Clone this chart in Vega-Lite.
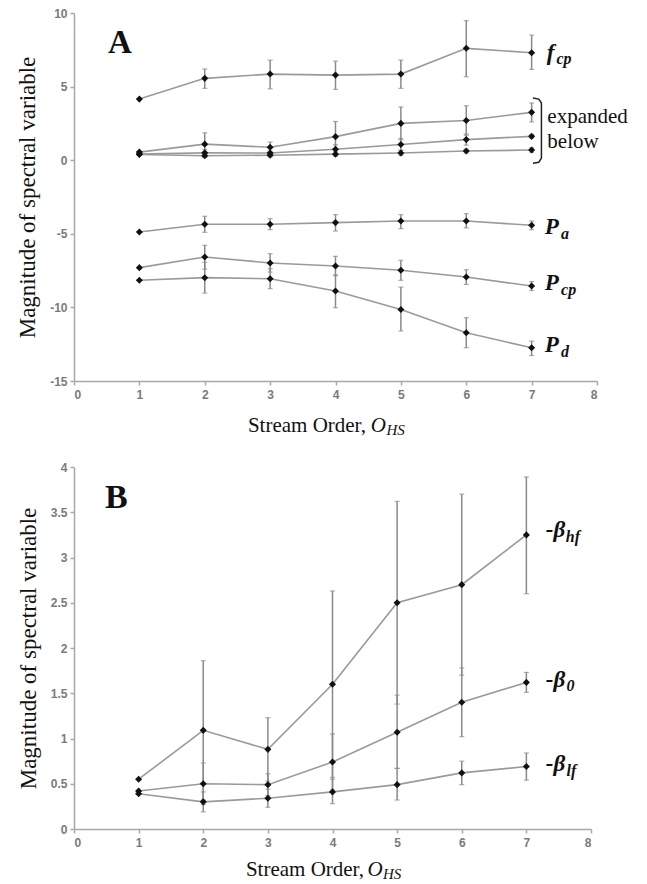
{
  "$schema": "https://vega.github.io/schema/vega-lite/v6.json",
  "background": "white",
  "padding": {"left": 16, "top": 7, "right": 5, "bottom": 5},
  "datasets": {
    "pts": [
      {"s": "fcp", "x": 1, "y": 4.15},
      {"s": "fcp", "x": 2, "y": 5.56, "lo": 4.88, "hi": 6.2},
      {"s": "fcp", "x": 3, "y": 5.85, "lo": 4.85, "hi": 6.8},
      {"s": "fcp", "x": 4, "y": 5.78, "lo": 4.81, "hi": 6.73},
      {"s": "fcp", "x": 5, "y": 5.85, "lo": 4.88, "hi": 6.8},
      {"s": "fcp", "x": 6, "y": 7.6, "lo": 5.67, "hi": 9.48},
      {"s": "fcp", "x": 7, "y": 7.3, "lo": 6.17, "hi": 8.5},
      {"s": "bhf", "x": 1, "y": 0.55},
      {"s": "bhf", "x": 2, "y": 1.09, "lo": 0.32, "hi": 1.86},
      {"s": "bhf", "x": 3, "y": 0.88, "lo": 0.53, "hi": 1.23},
      {"s": "bhf", "x": 4, "y": 1.6, "lo": 0.57, "hi": 2.63},
      {"s": "bhf", "x": 5, "y": 2.5, "lo": 1.38, "hi": 3.62},
      {"s": "bhf", "x": 6, "y": 2.7, "lo": 1.7, "hi": 3.7},
      {"s": "bhf", "x": 7, "y": 3.25, "lo": 2.6, "hi": 3.89},
      {"s": "b0", "x": 1, "y": 0.42},
      {"s": "b0", "x": 2, "y": 0.5, "lo": 0.27, "hi": 0.73},
      {"s": "b0", "x": 3, "y": 0.49, "lo": 0.37, "hi": 0.61},
      {"s": "b0", "x": 4, "y": 0.74, "lo": 0.43, "hi": 1.05},
      {"s": "b0", "x": 5, "y": 1.07, "lo": 0.67, "hi": 1.48},
      {"s": "b0", "x": 6, "y": 1.4, "lo": 1.02, "hi": 1.78},
      {"s": "b0", "x": 7, "y": 1.62, "lo": 1.51, "hi": 1.73},
      {"s": "blf", "x": 1, "y": 0.39},
      {"s": "blf", "x": 2, "y": 0.3, "lo": 0.19, "hi": 0.41},
      {"s": "blf", "x": 3, "y": 0.34, "lo": 0.24, "hi": 0.44},
      {"s": "blf", "x": 4, "y": 0.41, "lo": 0.28, "hi": 0.55},
      {"s": "blf", "x": 5, "y": 0.49, "lo": 0.32, "hi": 0.67},
      {"s": "blf", "x": 6, "y": 0.62, "lo": 0.49, "hi": 0.75},
      {"s": "blf", "x": 7, "y": 0.69, "lo": 0.54, "hi": 0.84},
      {"s": "Pa", "x": 1, "y": -4.88},
      {"s": "Pa", "x": 2, "y": -4.35, "lo": -4.9, "hi": -3.81},
      {"s": "Pa", "x": 3, "y": -4.35, "lo": -4.72, "hi": -3.97},
      {"s": "Pa", "x": 4, "y": -4.24, "lo": -4.81, "hi": -3.7},
      {"s": "Pa", "x": 5, "y": -4.13, "lo": -4.65, "hi": -3.7},
      {"s": "Pa", "x": 6, "y": -4.13, "lo": -4.6, "hi": -3.63},
      {"s": "Pa", "x": 7, "y": -4.42, "lo": -4.72, "hi": -4.13},
      {"s": "Pcp", "x": 1, "y": -7.3},
      {"s": "Pcp", "x": 2, "y": -6.58, "lo": -7.4, "hi": -5.78},
      {"s": "Pcp", "x": 3, "y": -6.98, "lo": -7.6, "hi": -6.35},
      {"s": "Pcp", "x": 4, "y": -7.19, "lo": -7.85, "hi": -6.53},
      {"s": "Pcp", "x": 5, "y": -7.48, "lo": -8.16, "hi": -6.8},
      {"s": "Pcp", "x": 6, "y": -7.94, "lo": -8.44, "hi": -7.44},
      {"s": "Pcp", "x": 7, "y": -8.55, "lo": -8.85, "hi": -8.25},
      {"s": "Pd", "x": 1, "y": -8.16},
      {"s": "Pd", "x": 2, "y": -7.98, "lo": -9.03, "hi": -6.93},
      {"s": "Pd", "x": 3, "y": -8.05, "lo": -8.73, "hi": -7.37},
      {"s": "Pd", "x": 4, "y": -8.89, "lo": -10.02, "hi": -7.79},
      {"s": "Pd", "x": 5, "y": -10.14, "lo": -11.6, "hi": -8.62},
      {"s": "Pd", "x": 6, "y": -11.72, "lo": -12.74, "hi": -10.7},
      {"s": "Pd", "x": 7, "y": -12.74, "lo": -13.27, "hi": -12.29}
    ],
    "lab": [
      {"p": "A", "k": "title", "t": "A", "x": 0.52, "y": 7.28},
      {"p": "A", "k": "main", "t": "f", "x": 7.23, "y": 6.8},
      {"p": "A", "k": "sub", "t": "cp", "x": 7.38, "y": 6.55},
      {"p": "A", "k": "main", "t": "P", "x": 7.2, "y": -4.99},
      {"p": "A", "k": "sub", "t": "a", "x": 7.45, "y": -5.33},
      {"p": "A", "k": "main", "t": "P", "x": 7.2, "y": -8.84},
      {"p": "A", "k": "sub", "t": "cp", "x": 7.45, "y": -9.18},
      {"p": "A", "k": "main", "t": "P", "x": 7.2, "y": -13.04},
      {"p": "A", "k": "sub", "t": "d", "x": 7.45, "y": -13.38},
      {"p": "A", "k": "note", "t": "expanded", "x": 7.24, "y": 2.5},
      {"p": "A", "k": "note", "t": "below", "x": 7.24, "y": 0.8},
      {"p": "A", "k": "xt", "t": "Stream Order,", "x": 2.66, "y": -18.44},
      {"p": "A", "k": "xo", "t": "O", "x": 4.54, "y": -18.44},
      {"p": "A", "k": "xs", "t": "HS", "x": 4.78, "y": -18.66},
      {"p": "B", "k": "title", "t": "B", "x": 0.48, "y": 3.55},
      {"p": "B", "k": "main", "t": "-β", "x": 7.3, "y": 3.23},
      {"p": "B", "k": "sub", "t": "hf", "x": 7.61, "y": 3.17},
      {"p": "B", "k": "main", "t": "-β", "x": 7.3, "y": 1.57},
      {"p": "B", "k": "sub", "t": "0", "x": 7.62, "y": 1.52},
      {"p": "B", "k": "main", "t": "-β", "x": 7.3, "y": 0.64},
      {"p": "B", "k": "sub", "t": "lf", "x": 7.62, "y": 0.59},
      {"p": "B", "k": "xt", "t": "Stream Order,", "x": 2.66, "y": -0.52},
      {"p": "B", "k": "xo", "t": "O", "x": 4.54, "y": -0.52},
      {"p": "B", "k": "xs", "t": "HS", "x": 4.78, "y": -0.55}
    ],
    "bracket": [
      {"i": 1, "x": 7.02, "y": 4.22},
      {"i": 2, "x": 7.11, "y": 4.15},
      {"i": 3, "x": 7.15, "y": 3.88},
      {"i": 4, "x": 7.15, "y": 0.14},
      {"i": 5, "x": 7.11, "y": -0.14},
      {"i": 6, "x": 7.02, "y": -0.2}
    ]
  },
  "vconcat": [
    {
      "width": 523,
      "height": 368,
      "encoding": {
        "x": {"field": "x", "type": "quantitative", "scale": {"domain": [0, 8], "nice": false},
              "axis": {"title": null, "values": [0, 1, 2, 3, 4, 5, 6, 7, 8], "labelExpr": "'' + datum.value", "labelPadding": 4}},
        "y": {"field": "y", "type": "quantitative", "scale": {"domain": [-15, 10], "nice": false},
              "axis": {"title": "Magnitude of spectral variable", "values": [-15, -10, -5, 0, 5, 10], "labelExpr": "'' + datum.value", "titlePadding": 10, "labelPadding": 3}}
      },
      "layer": [
        {"data": {"name": "pts"}, "mark": {"type": "line", "color": "#9a9a9a", "strokeWidth": 1.6}, "encoding": {"detail": {"field": "s"}}},
        {"data": {"name": "pts"}, "transform": [{"filter": "isValid(datum.lo)"}],
         "mark": {"type": "errorbar", "color": "#8a8a8a", "thickness": 1.5, "ticks": {"size": 5, "color": "#8a8a8a", "thickness": 1.2}},
         "encoding": {"y": {"field": "lo", "type": "quantitative"}, "y2": {"field": "hi"}}},
        {"data": {"name": "pts"}, "mark": {"type": "point", "shape": "diamond", "filled": true, "color": "#111", "size": 50, "opacity": 1}},
        {"data": {"name": "bracket"}, "mark": {"type": "line", "color": "#222", "strokeWidth": 1.5}, "encoding": {"order": {"field": "i"}}},
        {"data": {"name": "lab"}, "transform": [{"filter": "datum.p == 'A' && datum.k == 'title'"}],
         "mark": {"type": "text", "align": "left", "baseline": "alphabetic", "font": "Liberation Serif", "fontWeight": "bold", "fontSize": 33, "color": "#111"}, "encoding": {"text": {"field": "t"}}},
        {"data": {"name": "lab"}, "transform": [{"filter": "datum.p == 'A' && datum.k == 'main'"}],
         "mark": {"type": "text", "align": "left", "baseline": "alphabetic", "font": "Liberation Serif", "fontWeight": "bold", "fontStyle": "italic", "fontSize": 23, "color": "#111"}, "encoding": {"text": {"field": "t"}}},
        {"data": {"name": "lab"}, "transform": [{"filter": "datum.p == 'A' && datum.k == 'sub'"}],
         "mark": {"type": "text", "align": "left", "baseline": "alphabetic", "font": "Liberation Serif", "fontWeight": "bold", "fontStyle": "italic", "fontSize": 16, "color": "#111"}, "encoding": {"text": {"field": "t"}}},
        {"data": {"name": "lab"}, "transform": [{"filter": "datum.p == 'A' && datum.k == 'note'"}],
         "mark": {"type": "text", "align": "left", "baseline": "alphabetic", "font": "Liberation Serif", "fontSize": 21, "color": "#111"}, "encoding": {"text": {"field": "t"}}},
        {"data": {"name": "lab"}, "transform": [{"filter": "datum.p == 'A' && datum.k == 'xt'"}],
         "mark": {"type": "text", "align": "left", "baseline": "alphabetic", "font": "Liberation Serif", "fontSize": 21, "color": "#111"}, "encoding": {"text": {"field": "t"}}},
        {"data": {"name": "lab"}, "transform": [{"filter": "datum.p == 'A' && datum.k == 'xo'"}],
         "mark": {"type": "text", "align": "left", "baseline": "alphabetic", "font": "Liberation Serif", "fontStyle": "italic", "fontSize": 21, "color": "#111"}, "encoding": {"text": {"field": "t"}}},
        {"data": {"name": "lab"}, "transform": [{"filter": "datum.p == 'A' && datum.k == 'xs'"}],
         "mark": {"type": "text", "align": "left", "baseline": "alphabetic", "font": "Liberation Serif", "fontStyle": "italic", "fontSize": 15, "color": "#111"}, "encoding": {"text": {"field": "t"}}}
      ]
    },
    {
      "width": 517,
      "height": 362,
      "encoding": {
        "x": {"field": "x", "type": "quantitative", "scale": {"domain": [0, 8], "nice": false},
              "axis": {"title": null, "values": [0, 1, 2, 3, 4, 5, 6, 7, 8], "labelExpr": "'' + datum.value", "labelPadding": 4}},
        "y": {"field": "y", "type": "quantitative", "scale": {"domain": [0, 4], "nice": false},
              "axis": {"title": "Magnitude of spectral variable", "values": [0, 0.5, 1, 1.5, 2, 2.5, 3, 3.5, 4], "labelExpr": "'' + datum.value", "titlePadding": 10, "labelPadding": 3}}
      },
      "layer": [
        {"data": {"name": "pts"}, "transform": [{"filter": {"field": "s", "oneOf": ["bhf", "b0", "blf"]}}],
         "mark": {"type": "line", "color": "#9a9a9a", "strokeWidth": 1.6}, "encoding": {"detail": {"field": "s"}}},
        {"data": {"name": "pts"}, "transform": [{"filter": {"field": "s", "oneOf": ["bhf", "b0", "blf"]}}, {"filter": "isValid(datum.lo)"}],
         "mark": {"type": "errorbar", "color": "#8a8a8a", "thickness": 1.5, "ticks": {"size": 5, "color": "#8a8a8a", "thickness": 1.2}},
         "encoding": {"y": {"field": "lo", "type": "quantitative"}, "y2": {"field": "hi"}}},
        {"data": {"name": "pts"}, "transform": [{"filter": {"field": "s", "oneOf": ["bhf", "b0", "blf"]}}],
         "mark": {"type": "point", "shape": "diamond", "filled": true, "color": "#111", "size": 50, "opacity": 1}},
        {"data": {"name": "lab"}, "transform": [{"filter": "datum.p == 'B' && datum.k == 'title'"}],
         "mark": {"type": "text", "align": "left", "baseline": "alphabetic", "font": "Liberation Serif", "fontWeight": "bold", "fontSize": 34, "color": "#111"}, "encoding": {"text": {"field": "t"}}},
        {"data": {"name": "lab"}, "transform": [{"filter": "datum.p == 'B' && datum.k == 'main'"}],
         "mark": {"type": "text", "align": "left", "baseline": "alphabetic", "font": "Liberation Serif", "fontWeight": "bold", "fontStyle": "italic", "fontSize": 23, "color": "#111"}, "encoding": {"text": {"field": "t"}}},
        {"data": {"name": "lab"}, "transform": [{"filter": "datum.p == 'B' && datum.k == 'sub'"}],
         "mark": {"type": "text", "align": "left", "baseline": "alphabetic", "font": "Liberation Serif", "fontWeight": "bold", "fontStyle": "italic", "fontSize": 16, "color": "#111"}, "encoding": {"text": {"field": "t"}}},
        {"data": {"name": "lab"}, "transform": [{"filter": "datum.p == 'B' && datum.k == 'xt'"}],
         "mark": {"type": "text", "align": "left", "baseline": "alphabetic", "font": "Liberation Serif", "fontSize": 21, "color": "#111"}, "encoding": {"text": {"field": "t"}}},
        {"data": {"name": "lab"}, "transform": [{"filter": "datum.p == 'B' && datum.k == 'xo'"}],
         "mark": {"type": "text", "align": "left", "baseline": "alphabetic", "font": "Liberation Serif", "fontStyle": "italic", "fontSize": 21, "color": "#111"}, "encoding": {"text": {"field": "t"}}},
        {"data": {"name": "lab"}, "transform": [{"filter": "datum.p == 'B' && datum.k == 'xs'"}],
         "mark": {"type": "text", "align": "left", "baseline": "alphabetic", "font": "Liberation Serif", "fontStyle": "italic", "fontSize": 15, "color": "#111"}, "encoding": {"text": {"field": "t"}}}
      ]
    }
  ],
  "spacing": 23,
  "config": {
    "view": {"stroke": null},
    "axis": {
      "grid": false,
      "domainColor": "#a8a8a8",
      "domainWidth": 1.5,
      "tickColor": "#a8a8a8",
      "tickWidth": 1.5,
      "tickSize": 4,
      "labelFont": "Liberation Sans",
      "labelFontSize": 12,
      "labelFontWeight": "bold",
      "labelColor": "#7a7a7a",
      "titleFont": "Liberation Serif",
      "titleFontSize": 23,
      "titleFontWeight": "normal",
      "titleColor": "#111"
    }
  }
}
